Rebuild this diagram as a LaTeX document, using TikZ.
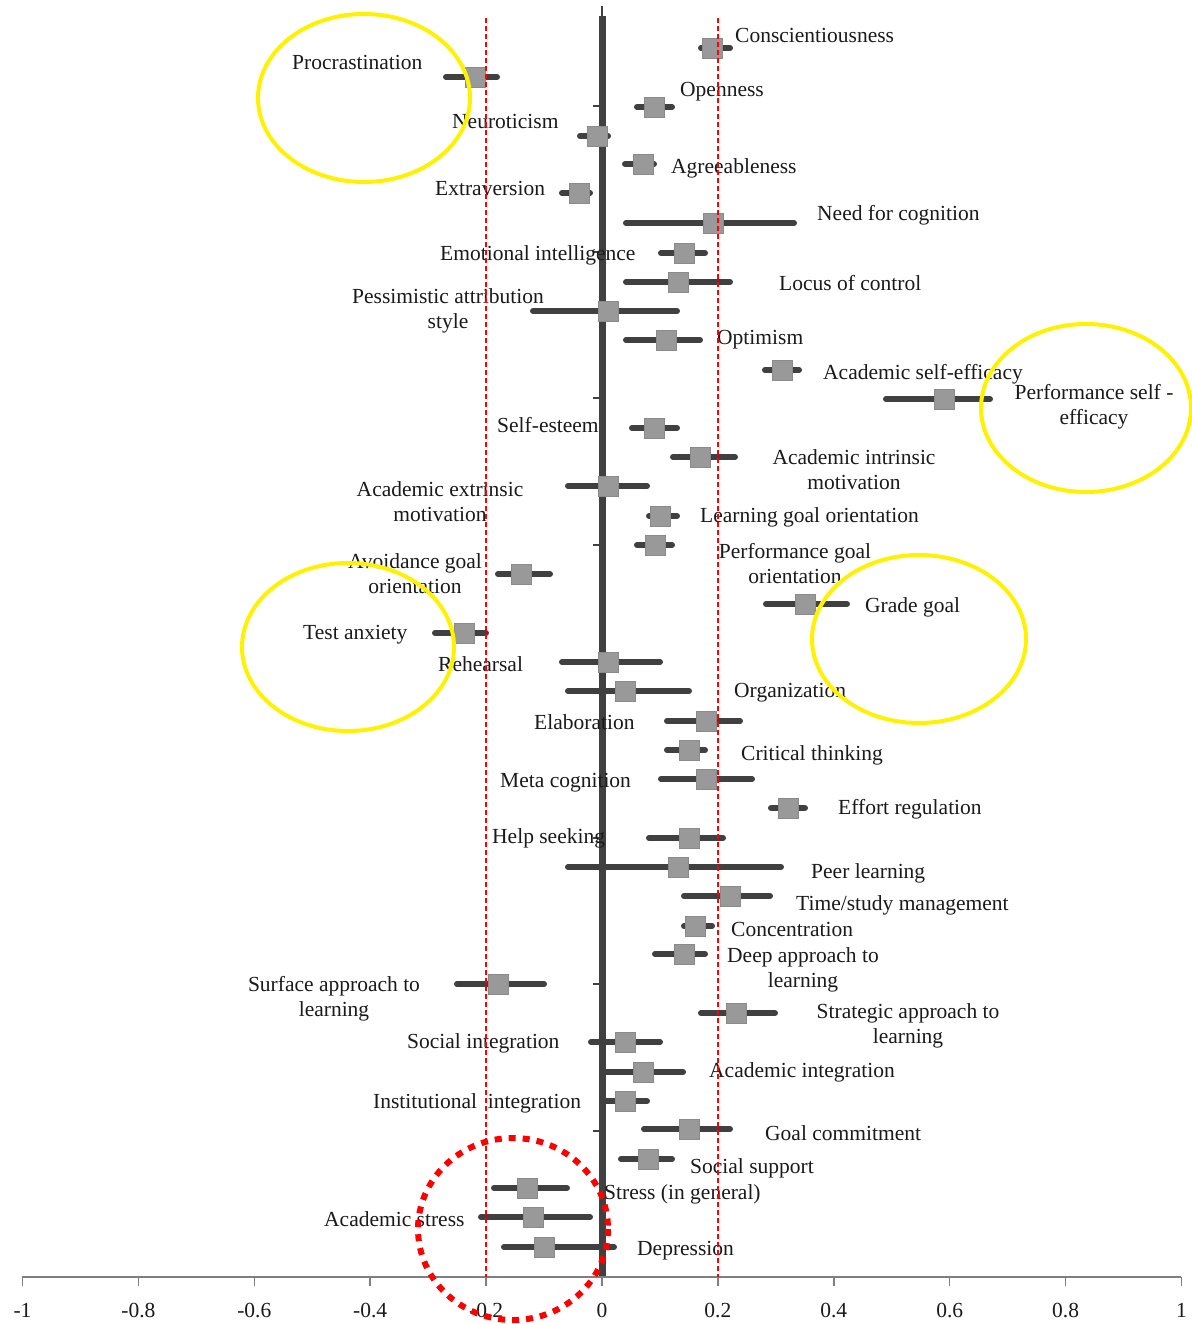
\documentclass[tikz,border=0pt]{standalone}
\usepackage{fontspec}
\setmainfont{Liberation Serif}
\definecolor{barc}{HTML}{404040}
\definecolor{sqf}{HTML}{999999}
\definecolor{sqb}{HTML}{8A8A8A}
\definecolor{axc}{HTML}{7F7F7F}
\definecolor{txt}{HTML}{1A1A1A}
\definecolor{hiyel}{HTML}{FFF200}
\newcommand\fpitem[5]{\draw[bar] (#3+3,#2) -- (#4-3,#2); \node[est] (#1) at (#5,#2) {};}
\begin{document}
\begin{tikzpicture}[x=1pt,y=-1pt,
  bar/.style={line width=6pt, draw=barc, line cap=round},
  est/.style={draw=sqb, fill=sqf, minimum size=20pt, inner sep=0pt, line width=0.8pt},
  lab/.style={font=\fontsize{21.5}{25}\selectfont, inner sep=0pt, text=txt, anchor=west, yshift=-2pt},
  lab2/.style={font=\fontsize{21.5}{25}\selectfont, inner sep=0pt, text=txt, align=center, anchor=center, yshift=-2pt},
  refline/.style={draw=red, line width=1.5pt, dash pattern=on 5pt off 3pt},
  hilite/.style={draw=hiyel, line width=4pt},
  ticklab/.style={font=\fontsize{21.5}{25}\selectfont, inner sep=0pt, text=txt, anchor=center}]
\useasboundingbox[fill=white] (0,0) rectangle (1191,1324);

% vertical zero axis
\draw[barc, line width=1.5pt] (602,6) -- (602,1277);
\draw[barc, line width=7pt] (602,16) -- (602,1277);
\foreach \ty in {106,252,398,545,691,838,984,1131}
  \draw[barc, line width=1.5pt] (593,\ty) -- (602,\ty);

% horizontal axis
\draw[axc, line width=1.8pt] (22,1277) -- (1181,1277);
\foreach \v/\lab in {-1/-1,-0.8/-0.8,-0.6/-0.6,-0.4/-0.4,-0.2/-0.2,0/0,0.2/0.2,0.4/0.4,0.6/0.6,0.8/0.8,1/1}{
  \draw[axc, line width=1.5pt] ({602+579.5*\v},1277) -- ({602+579.5*\v},1286);
  \node[ticklab] at ({602+579.5*\v},1310) {\lab};
}

% estimates
\fpitem{consc}{48}{698}{733}{712}
\fpitem{procr}{77}{443}{500}{475}
\fpitem{openn}{107}{634}{675}{654}
\fpitem{neuro}{136}{577}{611}{597}
\fpitem{agree}{164}{622}{657}{643}
\fpitem{extra}{193}{559}{593}{579}
\fpitem{needc}{223}{623}{797}{713}
\fpitem{emoti}{253}{658}{708}{684}
\fpitem{locus}{282}{623}{733}{678}
\fpitem{pessi}{311}{530}{680}{608}
\fpitem{optim}{340}{623}{703}{666}
\fpitem{acsef}{370}{762}{802}{782}
\fpitem{pfsef}{399}{883}{993}{944}
\fpitem{selfe}{428}{629}{680}{654}
\fpitem{acint}{457}{670}{738}{700}
\fpitem{acext}{486}{565}{650}{608}
\fpitem{lgoal}{516}{646}{680}{660}
\fpitem{pgoal}{545}{634}{675}{655}
\fpitem{avoid}{574}{495}{553}{521}
\fpitem{grade}{604}{763}{850}{805}
\fpitem{testa}{633}{432}{489}{464}
\fpitem{rehea}{662}{559}{663}{608}
\fpitem{organ}{691}{565}{692}{625}
\fpitem{elabo}{721}{664}{743}{706}
\fpitem{criti}{750}{664}{708}{689}
\fpitem{metac}{779}{658}{755}{706}
\fpitem{effor}{808}{768}{808}{788}
\fpitem{helps}{838}{646}{726}{689}
\fpitem{peerl}{867}{565}{784}{678}
\fpitem{times}{896}{681}{773}{730}
\fpitem{conce}{926}{681}{715}{695}
\fpitem{deepa}{954}{652}{708}{684}
\fpitem{surfa}{984}{454}{547}{498}
\fpitem{strat}{1013}{698}{778}{736}
\fpitem{socin}{1042}{588}{663}{625}
\fpitem{acain}{1072}{603}{686}{643}
\fpitem{instn}{1101}{603}{650}{625}
\fpitem{goalc}{1129}{641}{733}{689}
\fpitem{socsu}{1159}{618}{675}{648}
\fpitem{stres}{1188}{491}{570}{527}
\fpitem{acstr}{1217}{478}{593}{533}
\fpitem{depre}{1247}{501}{617}{544}

% labels
\node[lab] (l1) at (735,33) {Conscientiousness};
\node[lab] (l2) at (292,60) {Procrastination};
\node[lab] (l3) at (680,90) {Openness};
\node[lab] (l4) at (452,119) {Neuroticism};
\node[lab] (l5) at (671,166) {Agreeableness};
\node[lab] (l6) at (435,186) {Extraversion};
\node[lab] (l7) at (817,213) {Need for cognition};
\node[lab] (l8) at (440,253) {Emotional intelligence};
\node[lab] (l9) at (779,281) {Locus of control};
\node[lab2] (l10) at (448,309) {Pessimistic attribution\\style};
\node[lab] (l11) at (717,338) {Optimism};
\node[lab] (l12) at (823,372) {Academic self-efficacy};
\node[lab2] (l13) at (1094,405) {Performance self -\\efficacy};
\node[lab] (l14) at (497,423) {Self-esteem};
\node[lab2] (l15) at (854,468) {Academic intrinsic\\motivation};
\node[lab2] (l16) at (440,500) {Academic extrinsic\\motivation};
\node[lab] (l17) at (700,515) {Learning goal orientation};
\node[lab2] (l18) at (795,562) {Performance goal\\orientation};
\node[lab2] (l19) at (415,572) {Avoidance goal\\orientation};
\node[lab] (l20) at (865,605) {Grade goal};
\node[lab] (l21) at (303,633) {Test anxiety};
\node[lab] (l22) at (438,662) {Rehearsal};
\node[lab] (l23) at (734,691) {Organization};
\node[lab] (l24) at (534,720) {Elaboration};
\node[lab] (l25) at (741,753) {Critical thinking};
\node[lab] (l26) at (500,781) {Meta cognition};
\node[lab] (l27) at (838,807) {Effort regulation};
\node[lab] (l28) at (492,836) {Help seeking};
\node[lab] (l29) at (811,871) {Peer learning};
\node[lab] (l30) at (796,903) {Time/study management};
\node[lab] (l31) at (731,927) {Concentration};
\node[lab2] (l32) at (803,968) {Deep approach to\\learning};
\node[lab2] (l33) at (334,997) {Surface approach to\\learning};
\node[lab2] (l34) at (908,1024) {Strategic approach to\\learning};
\node[lab] (l35) at (407,1041) {Social integration};
\node[lab] (l36) at (709,1070) {Academic integration};
\node[lab] (l37) at (373,1101) {Institutional\ \ integration};
\node[lab] (l38) at (765,1131) {Goal commitment};
\node[lab] (l39) at (690,1166) {Social support};
\node[lab] (l40) at (604,1192) {Stress (in general)};
\node[lab] (l41) at (324,1217) {Academic stress};
\node[lab] (l42) at (637,1249) {Depression};

% reference lines at -0.2 and 0.2
\draw[refline] (486,18) -- (486,1277);
\draw[refline] (718,18) -- (718,1277);

% highlights
\draw[hilite] (364,98) ellipse [x radius=106, y radius=84];
\draw[hilite] (1086,408) ellipse [x radius=105, y radius=84];
\draw[hilite] (348,647) ellipse [x radius=106, y radius=84];
\draw[hilite] (919,639) ellipse [x radius=107, y radius=84];
\draw[red, line width=6pt, dash pattern=on 7pt off 7pt] (513,1229) ellipse [x radius=95, y radius=91];
\end{tikzpicture}
\end{document}
